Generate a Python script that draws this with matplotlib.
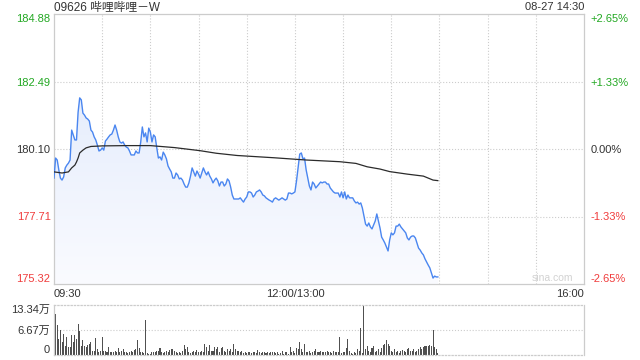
import numpy as np
import matplotlib
matplotlib.use('Agg')
import matplotlib.pyplot as plt
from matplotlib.colors import LinearSegmentedColormap

plt.rcParams['font.family'] = ['Liberation Sans', 'Noto Sans CJK SC']

# 分时价格 (每分钟, 09:30 起)
prices = [
    179.07, 179.78, 179.71, 179.36, 179.07, 179.00, 179.11, 179.43, 179.53, 179.60,
    179.71, 180.77, 180.60, 180.42, 180.42, 181.40, 181.91, 181.84, 181.37, 181.30,
    181.20, 181.16, 181.09, 180.77, 180.70, 180.53, 180.42, 180.24, 180.03, 180.06,
    180.14, 180.06, 180.38, 180.45, 180.53, 180.60, 180.63, 180.77, 180.95, 180.77,
    180.53, 180.35, 180.31, 180.35, 180.24, 180.17, 180.14, 180.03, 179.89, 179.89,
    179.89, 180.03, 179.96, 179.96, 180.35, 180.88, 180.53, 180.67, 180.35, 180.84,
    180.70, 180.35, 180.60, 180.53, 180.14, 179.78, 179.82, 179.71, 179.99, 179.89,
    179.75, 179.50, 179.39, 179.29, 179.07, 179.07, 179.25, 179.18, 179.04, 179.07,
    179.00, 178.86, 178.75, 178.75, 178.90, 179.14, 179.43, 179.29, 179.14, 179.32,
    179.21, 179.07, 179.25, 179.43, 179.29, 179.18, 179.29, 179.14, 179.04, 178.90,
    179.00, 179.07, 178.97, 178.79, 178.93, 178.93, 178.79, 178.86, 179.04, 178.97,
    178.75, 178.47, 178.33, 178.33, 178.33, 178.33, 178.37, 178.29, 178.22, 178.33,
    178.40, 178.58, 178.58, 178.54, 178.40, 178.47, 178.58, 178.61, 178.65, 178.58,
    178.47, 178.44, 178.37, 178.33, 178.29, 178.26, 178.22, 178.33, 178.37, 178.33,
    178.29, 178.33, 178.37, 178.33, 178.29, 178.33, 178.54, 178.54, 178.51, 178.54,
    178.58, 178.97, 179.43, 179.92, 179.96, 179.75, 179.78, 179.36, 179.07, 178.79,
    178.65, 178.93, 178.86, 178.72, 178.79, 178.86, 178.93, 178.90, 178.93, 178.93,
    178.86, 178.86, 178.72, 178.65, 178.58, 178.54, 178.54, 178.54, 178.40, 178.58,
    178.37, 178.58, 178.33, 178.47, 178.37, 178.37, 178.37, 178.26, 178.19, 178.22,
    178.15, 178.19, 178.01, 177.73, 177.44, 177.37, 177.48, 177.34, 177.27, 177.41,
    177.55, 177.80, 177.55, 177.30, 176.98, 176.88, 176.77, 176.63, 176.49, 176.88,
    177.13, 177.06, 177.13, 177.37, 177.37, 177.44, 177.34, 177.27, 177.20, 177.13,
    176.95, 176.88, 176.98, 177.02, 177.02, 176.95, 176.77, 176.59, 176.52, 176.42,
    176.35, 176.21, 176.10, 175.99, 175.89, 175.71, 175.53, 175.60, 175.57, 175.57,
]

# 均价线
avg_minutes = [0, 5, 9, 11, 13, 14, 15, 16, 18, 20, 23, 30, 45, 60, 75, 91, 101, 114,
               137, 157, 178, 188, 195, 203, 209, 220, 230, 236, 239]
avg_prices = [179.29, 179.25, 179.29, 179.43, 179.53, 179.64, 179.78, 179.96, 180.06,
              180.14, 180.19, 180.21, 180.22, 180.22, 180.15, 180.04, 179.95, 179.87,
              179.79, 179.71, 179.65, 179.59, 179.47, 179.39, 179.30, 179.21, 179.14,
              179.00, 178.98]

# 成交量 (万股)
volumes = [
    12.25, 10.81, 7.93, 4.32, 6.58, 3.42, 5.68, 2.52, 4.78, 2.07,
    2.07, 5.41, 3.42, 5.23, 4.32, 8.38, 6.31, 2.52, 3.87, 2.52,
    2.07, 2.70, 2.97, 3.42, 1.17, 1.17, 4.51, 1.62, 0.72, 1.17,
    4.78, 1.17, 1.17, 0.72, 2.07, 0.90, 0.90, 0.72, 1.17, 0.90,
    1.80, 0.72, 1.17, 1.62, 0.72, 0.90, 0.54, 0.72, 1.17, 0.90,
    1.44, 1.62, 3.87, 1.80, 0.90, 0.72, 0.54, 9.28, 0.54, 0.27,
    0.27, 0.90, 0.90, 0.90, 1.17, 1.17, 1.80, 0.72, 0.54, 0.72,
    1.17, 0.90, 1.44, 1.62, 1.62, 1.17, 0.72, 0.54, 0.72, 0.54,
    1.17, 2.70, 1.62, 2.07, 0.90, 0.54, 0.72, 1.17, 0.72, 1.44,
    0.90, 0.72, 1.17, 0.90, 2.97, 2.07, 1.17, 2.70, 1.17, 1.17,
    2.07, 1.62, 2.07, 0.72, 1.80, 2.07, 1.17, 0.72, 1.62, 1.17,
    1.62, 0.72, 2.97, 1.62, 1.17, 1.17, 0.72, 1.17, 0.54, 0.72,
    0.54, 0.72, 0.90, 0.54,
    0.90, 0.72, 0.54, 1.44, 0.72, 0.54, 0.90, 0.72, 0.54, 0.90,
    0.54, 0.72, 0.90, 0.72, 0.54, 0.90, 0.27, 0.54, 1.17, 0.18,
    0.72, 0.90,
    0.27, 2.07, 0.72, 1.17, 0.54, 1.80, 1.62, 3.42, 1.62, 0.90,
    2.97, 0.90, 0.72, 1.17, 0.54, 0.90, 1.17, 1.62, 0.90, 0.72,
    1.17, 0.72, 0.90, 0.90, 1.17, 0.72, 0.90, 0.54, 1.17, 0.72,
    0.90, 0.90, 4.78, 0.54, 0.72, 0.90, 1.80, 4.32, 1.17, 0.54,
    0.27, 0.72, 0.54, 1.62, 1.17, 7.21, 0.54, 13.33, 1.62, 2.52,
    1.17, 0.90, 1.80, 2.34, 0.90, 1.17, 1.62, 0.90, 1.80, 2.70,
    2.97, 3.87, 2.97, 2.52, 1.17, 0.90, 1.62, 0.90, 1.17, 0.54,
    1.08, 1.44,
    1.17, 0.90, 1.62, 1.80, 1.17, 1.17, 1.62, 0.90, 1.17, 1.62,
    2.07, 1.62, 2.07, 2.52, 2.34, 2.52, 2.70, 2.52, 6.58, 2.07,
    1.62, 0.54,
]

price_ticks = [175.32, 177.71, 180.10, 182.49, 184.88]
pct_labels = ['-2.65%', '-1.33%', '0.00%', '+1.33%', '+2.65%']
vol_ticks = [0, 6.67, 13.34]
vol_labels = ['0', '6.67万', '13.34万']
time_labels = ['09:30', '12:00/13:00', '16:00']

GREEN = '#22a822'
RED = '#f03c3c'
DARK = '#333333'
GRID = '#cccccc'
tick_colors = [RED, RED, DARK, GREEN, GREEN]

minutes = np.arange(len(prices))

fig = plt.figure(figsize=(6.4, 3.6), dpi=100)
ax = fig.add_axes([54 / 640, 1 - 284 / 360, 530 / 640, 270 / 360])
vax = fig.add_axes([54 / 640, 1 - 355 / 360, 530 / 640, 50 / 360])

# 价格区域渐变填充
poly = ax.fill_between(minutes, prices, price_ticks[0], color='none', lw=0)
grad = np.linspace(0, 1, 256).reshape(-1, 1)
cmap = LinearSegmentedColormap.from_list('fill', ['#fafbff', '#dde7fb'])
im = ax.imshow(grad, cmap=cmap, origin='lower', aspect='auto', zorder=1,
               extent=[0, 330, price_ticks[0], price_ticks[-1]])
im.set_clip_path(poly.get_paths()[0], transform=ax.transData)

ax.plot(minutes, prices, color='#4a86f0', lw=1.0, zorder=3)
ax.plot(avg_minutes, avg_prices, color='#2b2b2b', lw=0.9, zorder=3)

ax.set_xlim(0, 330)
ax.set_ylim(price_ticks[0], price_ticks[-1])
for m in range(30, 330, 30):
    ax.axvline(m, color=GRID, ls=':', lw=0.8, zorder=0)
for p in price_ticks[1:-1]:
    ax.axhline(p, color=GRID, ls=':', lw=0.8, zorder=0)
for s in ax.spines.values():
    s.set_color(GRID)
    s.set_linewidth(0.9)

ax.set_yticks(price_ticks)
ax.set_yticklabels(['%.2f' % p for p in price_ticks])
ax.tick_params(axis='y', length=0, pad=2.5, labelsize=8)
for lab, c in zip(ax.get_yticklabels(), tick_colors):
    lab.set_color(c)
ax.get_yticklabels()[0].set_va('bottom')
ax.get_yticklabels()[-1].set_va('top')

ax.set_xticks([0, 150, 330])
ax.set_xticklabels(time_labels)
ax.tick_params(axis='x', length=0, pad=3.5, labelsize=8, labelcolor=DARK)
xl = ax.get_xticklabels()
xl[0].set_ha('left')
xl[2].set_ha('right')

# 右侧涨跌幅
rax = ax.twinx()
rax.set_ylim(price_ticks[0], price_ticks[-1])
rax.set_yticks(price_ticks)
rax.set_yticklabels(pct_labels)
rax.tick_params(axis='y', length=0, pad=4.5, labelsize=8)
for lab, c in zip(rax.get_yticklabels(), tick_colors):
    lab.set_color(c)
rax.get_yticklabels()[0].set_va('bottom')
rax.get_yticklabels()[-1].set_va('top')
for s in rax.spines.values():
    s.set_visible(False)

ax.text(0.98, 0.004, 'sina.com', transform=ax.transAxes, ha='right', va='bottom',
        fontsize=7.5, color='#d2d2d2')

# 成交量
vax.bar(np.arange(len(volumes)), volumes, width=0.65, color='#505050',
        antialiased=False, zorder=2)
vax.set_xlim(0, 330)
vax.set_ylim(0, vol_ticks[-1])
vax.axhline(vol_ticks[1], color=GRID, ls=':', lw=0.8, zorder=0)
vax.set_xticks([])
vax.set_yticks(vol_ticks)
vax.set_yticklabels(vol_labels)
vax.tick_params(axis='y', length=0, pad=3, labelsize=8, labelcolor=DARK)
vl = vax.get_yticklabels()
vl[0].set_va('bottom')
vl[2].set_va('top')
for name, s in vax.spines.items():
    s.set_color(GRID)
    s.set_linewidth(0.9)
    if name in ('top', 'bottom'):
        s.set_linestyle(':')

fig.text(54 / 640, 1 - 7.5 / 360, '09626 哔哩哔哩－W', ha='left', va='center',
         fontsize=8.5, color=DARK)
fig.text(584 / 640, 1 - 7.5 / 360, '08-27 14:30', ha='right', va='center',
         fontsize=8, color=DARK)

fig.savefig('out.png', dpi=100)
